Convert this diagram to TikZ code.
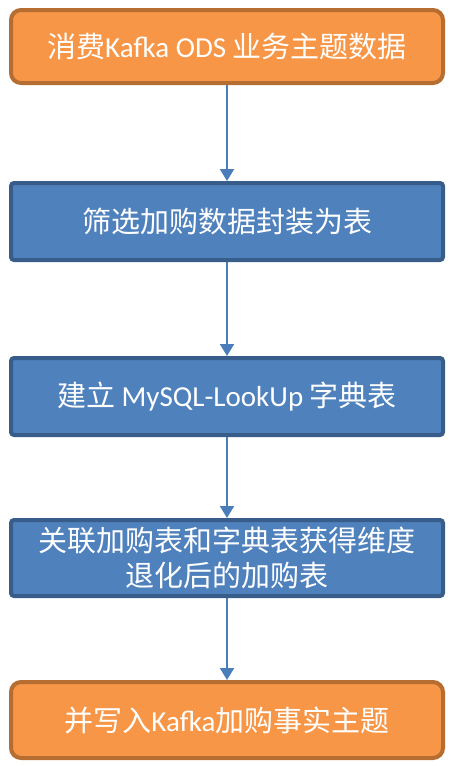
\documentclass[tikz,border=0pt]{standalone}
\usepackage{fontspec}
\setmainfont{Carlito}
\newfontfamily\cjk{Noto Sans CJK SC}
\usetikzlibrary{arrows.meta}

\definecolor{kafkafill}{HTML}{F79646}
\definecolor{kafkaline}{HTML}{B66D31}
\definecolor{stepfill}{HTML}{4F81BD}
\definecolor{stepline}{HTML}{385D8A}
\definecolor{flowline}{HTML}{4A7EBB}

\tikzset{
  basebox/.style={minimum width=432pt, inner sep=0pt, line width=4pt,
    text=white, align=center, font=\fontsize{29}{35}\selectfont},
  kafkabox/.style={basebox, draw=kafkaline, fill=kafkafill,
    rounded corners=10pt, minimum height=73pt},
  stepbox/.style={basebox, draw=stepline, fill=stepfill,
    rounded corners=3pt, minimum height=77pt},
  flow/.style={draw=flowline, line width=2pt,
    -{Triangle[width=14pt,length=12pt]}}
}

\begin{document}
\begin{tikzpicture}[x=1pt,y=-1pt]
    \useasboundingbox (0,0) rectangle (451,766);

    \node[kafkabox] (ods) at (227,46.5) {{\cjk 消费}Kafka ODS {\cjk 业务主题数据}};
    \node[stepbox] (filter) at (227,221.5) {\cjk 筛选加购数据封装为表};
    \node[stepbox] (lookup) at (227,396.5) {{\cjk 建立} MySQL-LookUp {\cjk 字典表}};
    \node[stepbox, minimum height=76pt] (join) at (227,558)
      {\cjk 关联加购表和字典表获得维度\\\cjk 退化后的加购表};
    \node[kafkabox, minimum height=76pt] (fact) at (227,720) {{\cjk 并写入}Kafka{\cjk 加购事实主题}};

    \draw[flow] (ods) -- (filter);
    \draw[flow] (filter) -- (lookup);
    \draw[flow] (lookup) -- (join);
    \draw[flow] (join) -- (fact);
\end{tikzpicture}
\end{document}
